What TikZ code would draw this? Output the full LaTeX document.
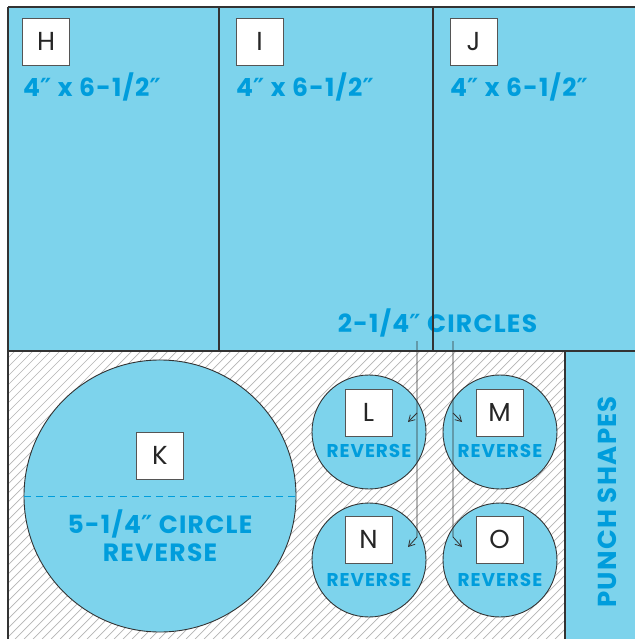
\documentclass[tikz,border=0pt]{standalone}
\usepackage{fontspec}
\setmainfont{Poppins}
\newfontfamily\medfont{Poppins}[LetterSpace=5]
\newfontfamily\djvfont{DejaVu Sans}
\newcommand{\dblprime}{{\djvfont\bfseries ″}}
\usetikzlibrary{arrows.meta}
\definecolor{panelblue}{HTML}{7DD3EC}
\definecolor{textblue}{HTML}{009DDC}
\definecolor{linegray}{HTML}{333333}
\definecolor{hatchgray}{HTML}{B4B4B4}
\definecolor{boxgray}{HTML}{555555}
\tikzset{
  panelline/.style={draw=linegray, line width=1.2pt},
  cutcircle/.style={fill=panelblue, draw=linegray, line width=0.9pt},
  letterbox/.style={draw=boxgray, fill=white, line width=0.9pt, minimum width=47pt, minimum height=47pt, inner sep=0pt, text=black!85, font=\fontsize{26}{26}\selectfont},
  sizetext/.style={text=textblue, font=\medfont\bfseries\fontsize{25}{25}\selectfont, inner sep=0pt},
  punchtext/.style={text=textblue, font=\medfont\bfseries\fontsize{26}{26}\selectfont, inner sep=0pt},
  smalltext/.style={text=textblue, font=\medfont\bfseries\fontsize{18.5}{18.5}\selectfont, inner sep=0pt},
  pointer/.style={draw=linegray, line width=0.8pt, -{Straight Barb[length=6pt,width=7pt]}},
}
\begin{document}
\begin{tikzpicture}[x=1pt, y=-1pt]
\useasboundingbox (0,0) rectangle (635,639);
% top panels
\fill[panelblue] (8,7) rectangle (635,351);
% hatched area
\fill[white] (8,351) rectangle (565,639);
\begin{scope}
\clip (8,351) rectangle (565,639);
\foreach \i in {0,9,...,900} {
  \draw[hatchgray, line width=0.7pt] (\i-300,639) -- ++(320,-320);
}
\end{scope}
% punch shapes panel
\fill[panelblue] (565,351) rectangle (635,639);
% texts top
\node[sizetext, anchor=base west] (hs) at (23,97) {4\dblprime{} x 6-1/2\dblprime};
\node[sizetext, anchor=base west] (is) at (236,97) {4\dblprime{} x 6-1/2\dblprime};
\node[sizetext, anchor=base west] (js) at (450,97) {4\dblprime{} x 6-1/2\dblprime};
\node[sizetext, anchor=base] (ct) at (437.5,332) {2-1/4\dblprime{} CIRCLES};
% panel lines
\draw[panelline] (8,7) -- (635,7);
\draw[panelline] (8,7) -- (8,639);
\draw[panelline] (8,351) -- (635,351);
\draw[panelline] (219,7) -- (219,351);
\draw[panelline] (433,7) -- (433,351);
\draw[panelline] (565,351) -- (565,639);
% big circle
\draw[cutcircle] (160,496) circle (136);
\draw[textblue, dashed, dash pattern=on 7pt off 5pt, line width=0.9pt] (24,496) -- (296,496);
\node[letterbox] (K) at (160,455.5) {K};
\node[sizetext, anchor=base] (kt1) at (160,533) {5-1/4\dblprime{} CIRCLE};
\node[sizetext, anchor=base] (kt2) at (160,561) {REVERSE};
% small circles
\draw[cutcircle] (369,432) circle (57);
\draw[cutcircle] (500,432) circle (57);
\draw[cutcircle] (369,560) circle (57);
\draw[cutcircle] (500,560) circle (57);
\node[letterbox] (L) at (368.5,412.5) {L};
\node[letterbox] (M) at (499.5,412.5) {M};
\node[letterbox] (N) at (368.5,539.5) {N};
\node[letterbox] (O) at (499.5,539.5) {O};
\node[smalltext, anchor=base] at (369,457) {REVERSE};
\node[smalltext, anchor=base] at (500,457) {REVERSE};
\node[smalltext, anchor=base] at (369,586) {REVERSE};
\node[smalltext, anchor=base] at (500,586) {REVERSE};
% top letter boxes
\node[letterbox] (H) at (46,41.5) {H};
\node[letterbox] (I) at (259.5,41.5) {I};
\node[letterbox] (J) at (473.5,41.5) {J};
% punch shapes
\node[punchtext, rotate=90] (ps) at (607,502) {PUNCH SHAPES};
% pointers
\coordinate (a0) at (417,341);
\coordinate (a1) at (417,413);
\coordinate (a2) at (417,537);
\coordinate (at1) at (408,422);
\coordinate (at2) at (408,547);
\coordinate (b0) at (453,341);
\coordinate (b1) at (453,413);
\coordinate (b2) at (453,537);
\coordinate (bt1) at (462,422);
\coordinate (bt2) at (462,547);
\draw[pointer] (a0) -- (a2) -- (at2);
\draw[pointer] (a1) -- (at1);
\draw[pointer] (b0) -- (b2) -- (bt2);
\draw[pointer] (b1) -- (bt1);
\end{tikzpicture}
\end{document}
